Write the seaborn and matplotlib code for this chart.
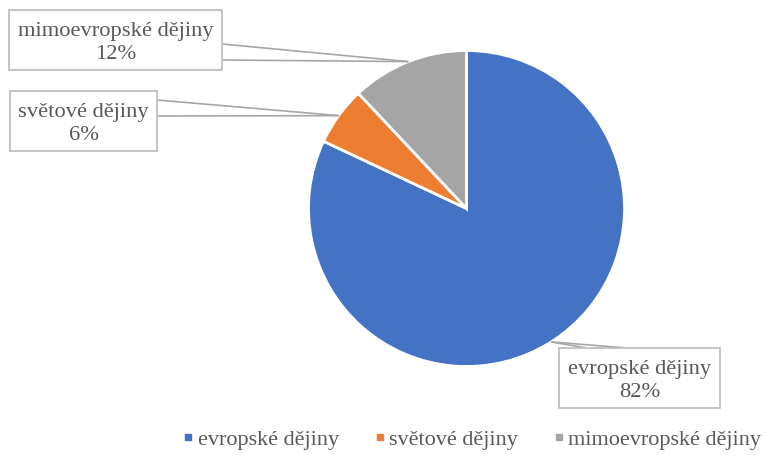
import numpy as np
import matplotlib
matplotlib.use("Agg")
import matplotlib.pyplot as plt
from matplotlib.patches import Rectangle
from matplotlib.lines import Line2D
import seaborn as sns

# data
categories = ["evropské dějiny", "světové dějiny", "mimoevropské dějiny"]
shares = [82, 6, 12]
value_labels = ["82%", "6%", "12%"]
colors = ["#4472C4", "#ED7D31", "#A5A5A5"]

sns.set_theme(style="white")
plt.rcParams['font.family'] = ['Liberation Serif', 'DejaVu Serif']

W, H = 765, 456
fig = plt.figure(figsize=(W / 100, H / 100), dpi=100)
ax = fig.add_axes([0, 0, 1, 1])

cx, cy, R = 466.5, H - 209.5, 158
wedges, _ = ax.pie(shares, colors=colors, startangle=90, counterclock=False,
                   center=(cx, cy), radius=R,
                   wedgeprops=dict(edgecolor="white", linewidth=2))
ax.set_xlim(0, W)
ax.set_ylim(0, H)
ax.set_aspect("equal")
ax.axis("off")

TXT = "#595959"
BOX_EC = "#BFBFBF"
LINE_C = "#A6A6A6"

# label boxes in image pixel coords: (x0, y0, x1, y1), attach points
boxes = {
    0: dict(rect=(559, 349, 720, 409), att=[(587, 349), (627, 349)]),
    1: dict(rect=(10, 92, 157, 152), att=[(157, 101), (157, 117)]),
    2: dict(rect=(9, 11, 222, 71), att=[(222, 45), (222, 61)]),
}

for i, w in enumerate(wedges):
    mid = np.deg2rad((w.theta1 + w.theta2) / 2)
    px = cx + R * np.cos(mid)
    py = cy + R * np.sin(mid)
    b = boxes[i]
    x0, y0, x1, y1 = b["rect"]
    for ax_, ay_ in b["att"]:
        ax.plot([ax_, px], [H - ay_, py], color=LINE_C, lw=1.2, zorder=3,
                solid_capstyle="butt")
    ax.add_patch(Rectangle((x0, H - y1), x1 - x0, y1 - y0, facecolor="white",
                           edgecolor=BOX_EC, lw=1.3, zorder=4))
    ax.text((x0 + x1) / 2, H - (y0 + y1) / 2 - 2,
            f"{categories[i]}\n{value_labels[i]}", ha="center", va="center",
            fontsize=16.2, color=TXT, zorder=5, linespacing=1.3)

handles = [Line2D([0], [0], marker="s", linestyle="none", markersize=4.5,
                  markerfacecolor=c, markeredgecolor=c) for c in colors]
ax.legend(handles, categories, loc="center", bbox_to_anchor=(472 / W, 1 - 440 / H),
          ncol=3, frameon=False, fontsize=16, labelcolor=TXT,
          handletextpad=0.18, columnspacing=1.58, handlelength=0.5)

fig.savefig("out.png", dpi=100, facecolor="white")
